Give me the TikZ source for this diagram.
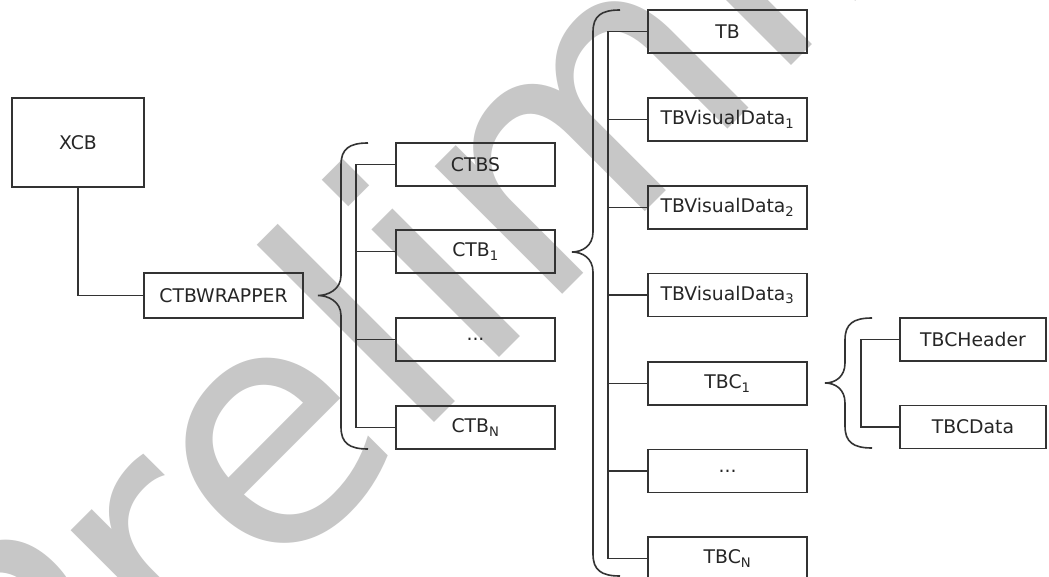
\documentclass[tikz,border=0pt]{standalone}
\usepackage{fontspec}
\newfontfamily\lblfont{DejaVu Sans}
\newcommand\mybrace[6]{%
  \draw[brc] (#3,#4) .. controls ({#2+8},#4) and (#2,{#4+6}) .. (#2,{#4+22})
    -- (#2,{#5-20}) .. controls (#2,{#5-6}) and ({#1+10},#5) .. (#1,#5)
    .. controls ({#1+10},#5) and (#2,{#5+6}) .. (#2,{#5+20})
    -- (#2,{#6-22}) .. controls (#2,{#6-6}) and ({#2+8},#6) .. (#3,#6);}
\begin{document}
\begin{tikzpicture}[x=1pt,y=-1pt,
  line/.style={draw=black!80, line width=1.7pt},
  brc/.style={draw=black!80, line width=1.6pt},
  box/.style={draw=black!80, line width=1.7pt, minimum width=159pt, minimum height=43pt,
    inner sep=0pt, font=\lblfont\fontsize{18.8}{22}\selectfont, text=black!85},
  wm/.style={text=black!22, font=\lblfont\fontsize{330}{330}\selectfont, inner sep=0pt}
]
\useasboundingbox (0,0) rectangle (1049,577);
\clip (0,0) rectangle (1049,577);
\fill[white] (0,0) rectangle (1049,577);
% watermark
\node[wm, anchor=base west, rotate=45] (wmark) at (41,816) {Preliminary};

% nodes
\node[box, minimum width=132pt, minimum height=89pt] (xcb) at (78,142.5) {XCB};
\node[box, minimum height=45pt] (wrap) at (223.5,295.5) {CTBWRAPPER};

\node[box] (ctbs) at (475.5,164.5) {CTBS};
\node[box] (ctb1) at (475.5,251.5) {CTB\textsubscript{1}};
\node[box] (ctbd) at (475.5,339.5) {...};
\node[box] (ctbn) at (475.5,427.5) {CTB\textsubscript{N}};

\node[box] (tb)   at (727.5,31.5) {TB};
\node[box] (tbv1) at (727.5,119.5) {TBVisualData\textsubscript{1}};
\node[box] (tbv2) at (727.5,207.5) {TBVisualData\textsubscript{2}};
\node[box] (tbv3) at (727.5,295) {TBVisualData\textsubscript{3}};
\node[box] (tbc1) at (727.5,383.5) {TBC\textsubscript{1}};
\node[box] (tbcd) at (727.5,471) {...};
\node[box] (tbcn) at (727.5,558.5) {TBC\textsubscript{N}};

\node[box, minimum width=146pt] (hdr) at (973,339.5) {TBCHeader};
\node[box, minimum width=146pt] (dat) at (973,427) {TBCData};

% connectors
\draw[line] (xcb.south) |- (wrap.west);

\draw[line] (ctbs.west) -- ++(-39,0) |- (ctbn.west);
\draw[line] (ctb1.west) -- ++(-39,0);
\draw[line] (ctbd.west) -- ++(-39,0);

\draw[line] (tb.west) -- ++(-39,0) |- (tbcn.west);
\draw[line] (tbv1.west) -- ++(-39,0);
\draw[line] (tbv2.west) -- ++(-39,0);
\draw[line] (tbv3.west) -- ++(-39,0);
\draw[line] (tbc1.west) -- ++(-39,0);
\draw[line] (tbcd.west) -- ++(-39,0);

\draw[line] (hdr.west) -- ++(-38,0) |- (dat.west);

% braces
\mybrace{318}{341}{368}{143}{295.5}{449}
\mybrace{572}{593}{620}{10}{252}{576}
\mybrace{825}{845}{872}{318}{383}{448}
\end{tikzpicture}
\end{document}
